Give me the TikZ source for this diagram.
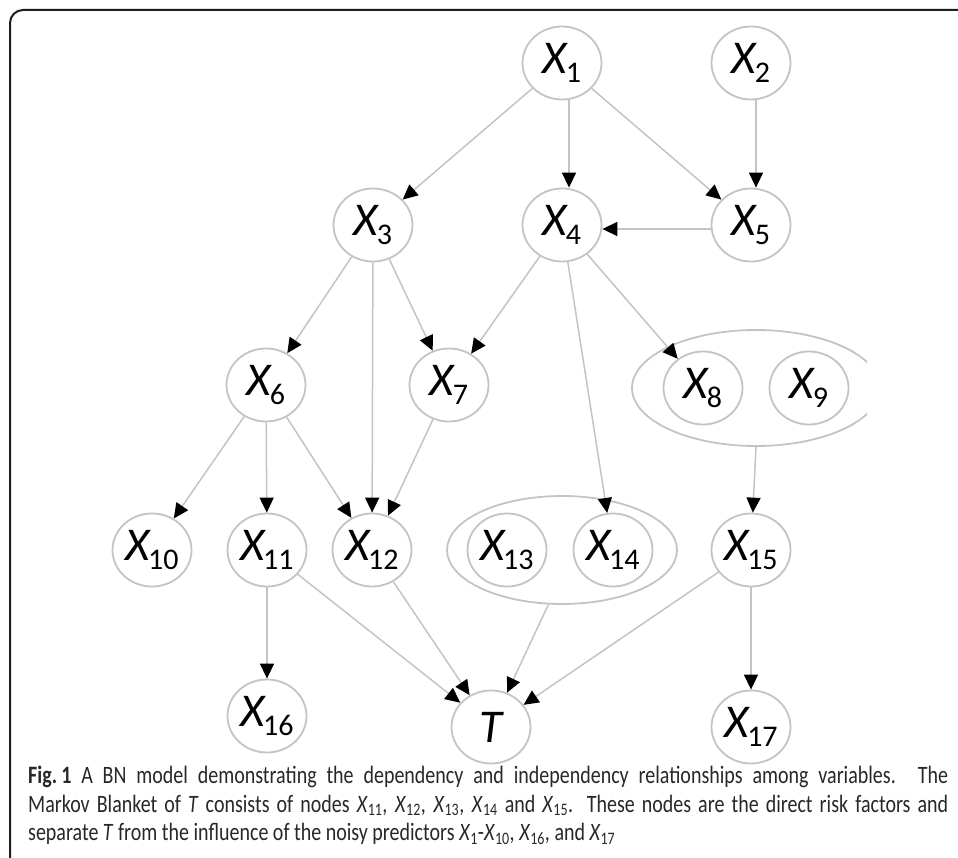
\documentclass[tikz,border=0pt]{standalone}
\usepackage{fontspec}
\setmainfont{Carlito}
\newfontfamily\capfont{Carlito}[FakeStretch=0.8]
\usetikzlibrary{arrows.meta,shapes.geometric}
\definecolor{linegray}{RGB}{196,196,196}
\definecolor{framecol}{RGB}{30,30,30}
\definecolor{captcol}{RGB}{40,40,40}
\newcommand{\nv}[1]{{\fontsize{47}{47}\selectfont\itshape X}\kern-1.5pt{\fontsize{30}{30}\selectfont\raisebox{-9pt}{#1}}}
\newcommand{\cx}[1]{\textit{X}\textsubscript{#1}}
\tikzset{
  var/.style={ellipse, draw=linegray, line width=1.8pt, minimum width=79pt, minimum height=73pt, inner sep=0pt},
  grp/.style={ellipse, draw=linegray, line width=1.8pt, inner sep=0pt},
  arr/.style={draw=linegray, line width=1.5pt, -{Triangle[length=15pt,width=14pt,color=black]}},
}
\begin{document}
\begin{tikzpicture}[x=1pt,y=-1pt]
\clip (0,0) rectangle (958,858);
\fill[white] (0,0) rectangle (958,858);
\draw[framecol, line width=2pt, rounded corners=13pt] (10,10) rectangle (1000,900);

% groups
\begin{scope}
\clip (0,0) rectangle (867,858);
\node[grp, minimum width=248pt, minimum height=116pt] (g1) at (756,388) {};
\end{scope}
\node[grp, minimum width=230pt, minimum height=108pt] (g2) at (562,550) {};

% nodes
\node[var] (X1) at (562,63) {\nv{1}};
\node[var] (X2) at (751,63) {\nv{2}};
\node[var] (X3) at (373,225) {\nv{3}};
\node[var] (X4) at (562,225) {\nv{4}};
\node[var] (X5) at (751,225) {\nv{5}};
\node[var] (X6) at (266,385) {\nv{6}};
\node[var] (X7) at (449,385) {\nv{7}};
\node[var] (X8) at (703,388) {\nv{8}};
\node[var] (X9) at (809,388) {\nv{9}};
\node[var] (X10) at (152,550) {\nv{10}};
\node[var] (X11) at (267,550) {\nv{11}};
\node[var] (X12) at (372,550) {\nv{12}};
\node[var] (X13) at (507,550) {\nv{13}};
\node[var] (X14) at (613,550) {\nv{14}};
\node[var] (X15) at (751,550) {\nv{15}};
\node[var] (X16) at (267,716) {\nv{16}};
\node[var] (T) at (491,727) {{\fontsize{47}{47}\selectfont\itshape T}};
\node[var] (X17) at (751,727) {\nv{17}};

% edges
\draw[arr] (X1) -- (X3);
\draw[arr] ([xshift=7pt]X1.south) -- ([xshift=7pt]X4.north);
\draw[arr] (X1) -- (X5);
\draw[arr] ([xshift=5pt]X2.south) -- ([xshift=5pt]X5.north);
\draw[arr] ([yshift=-4pt]X5.west) -- ([yshift=-4pt]X4.east);
\draw[arr] (X3) -- (X6);
\draw[arr] (X3) -- (X12);
\draw[arr] (X3) -- (X7);
\draw[arr] (X4) -- (X7);
\draw[arr] (X4) -- (X14);
\draw[arr] (X4) -- (X8);
\draw[arr] (X6) -- (X10);
\draw[arr] (X6) -- (X11);
\draw[arr] (X6) -- (X12);
\draw[arr] (X7) -- (X12);
\draw[arr] (X11) -- (X16);
\draw[arr] (X11) -- (T);
\draw[arr] (X12) -- (T);
\draw[arr] (g2.256) -- (T);
\draw[arr] (g1.south) -- (X15);
\draw[arr] (X15) -- (T);
\draw[arr] (X15) -- (X17);

% caption
\node[anchor=north west, inner sep=0pt, align=left, text=captcol,
      font=\capfont\fontsize{25}{28.5}\selectfont] (cap) at (28,766)
{\makebox[920pt][s]{\textbf{Fig.\,1} A BN model demonstrating the dependency and independency relationships among variables. The}\\
\makebox[920pt][s]{Markov Blanket of \textit{T} consists of nodes \cx{11}, \cx{12}, \cx{13}, \cx{14} and \cx{15}. These nodes are the direct risk factors and}\\
separate \textit{T} from the influence of the noisy predictors \cx{1}-\cx{10}, \cx{16}, and \cx{17}};
\end{tikzpicture}
\end{document}
